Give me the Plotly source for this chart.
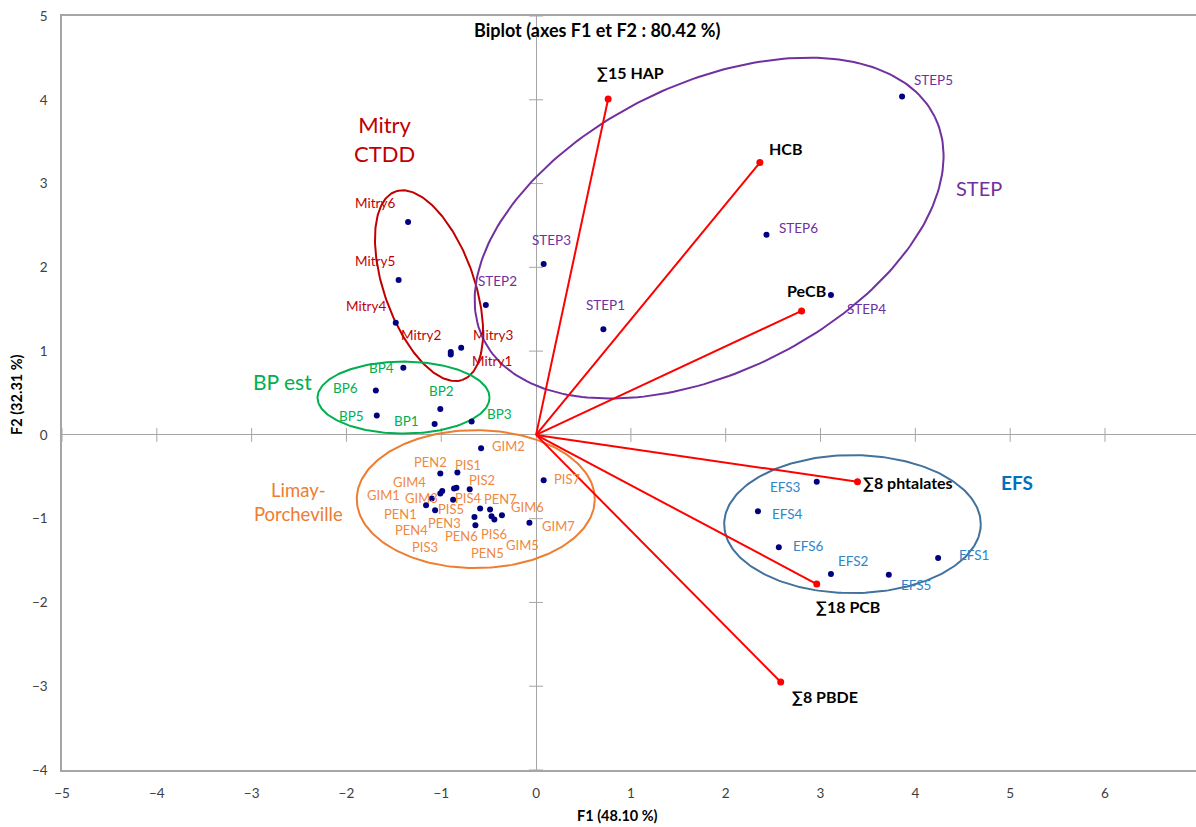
import numpy as np
import plotly.graph_objects as go

# ---------------- data (F1, F2 scores) ----------------
mitry_names = ["Mitry1", "Mitry2", "Mitry3", "Mitry4", "Mitry5", "Mitry6"]
mitry_f1 = [-0.90, -0.90, -0.79, -1.48, -1.45, -1.35]
mitry_f2 = [0.96, 0.99, 1.04, 1.34, 1.85, 2.54]

step_names = ["STEP1", "STEP2", "STEP3", "STEP4", "STEP5", "STEP6"]
step_f1 = [0.71, -0.53, 0.08, 3.11, 3.86, 2.43]
step_f2 = [1.26, 1.55, 2.04, 1.67, 4.04, 2.39]

bp_names = ["BP1", "BP2", "BP3", "BP4", "BP5", "BP6"]
bp_f1 = [-1.07, -1.01, -0.68, -1.40, -1.68, -1.69]
bp_f2 = [0.13, 0.31, 0.16, 0.80, 0.23, 0.53]

efs_names = ["EFS1", "EFS2", "EFS3", "EFS4", "EFS5", "EFS6"]
efs_f1 = [4.24, 3.11, 2.96, 2.34, 3.72, 2.56]
efs_f2 = [-1.47, -1.66, -0.56, -0.91, -1.67, -1.34]

limay_names = ["GIM1", "GIM2", "GIM3", "GIM4", "GIM5", "GIM6", "GIM7",
               "PEN1", "PEN2", "PEN3", "PEN4", "PEN5", "PEN6", "PEN7",
               "PIS1", "PIS2", "PIS3", "PIS4", "PIS5", "PIS6", "PIS7"]
limay_f1 = [-1.10, -0.58, -0.99, -1.01, -0.47, -0.36, -0.07,
            -1.16, -1.01, -0.65, -0.865, -0.485, -0.64, -0.59,
            -0.83, -0.70, -0.84, -0.875, -1.065, -0.44, 0.08]
limay_f2 = [-0.76, -0.16, -0.67, -0.70, -0.97, -0.96, -1.05,
            -0.84, -0.46, -0.98, -0.64, -0.89, -1.08, -0.88,
            -0.45, -0.65, -0.63, -0.775, -0.90, -1.01, -0.54]

var_names = ["∑15 HAP", "HCB", "PeCB", "∑8 phtalates", "∑18 PCB", "∑8 PBDE"]
var_f1 = [0.76, 2.36, 2.80, 3.39, 2.96, 2.58]
var_f2 = [4.01, 3.25, 1.48, -0.56, -1.78, -2.95]

x_ticks = [-5, -4, -3, -2, -1, 0, 1, 2, 3, 4, 5, 6]
y_ticks = [-4, -3, -2, -1, 0, 1, 2, 3, 4, 5]

# ---------------- layout geometry ----------------
W, H = 1196, 827
M = dict(l=62, r=0, t=16, b=57)
X_RANGE = [-5, 6.96]
Y_RANGE = [-4, 5]
px_x = (W - M["l"] - M["r"]) / (X_RANGE[1] - X_RANGE[0])
px_y = (H - M["t"] - M["b"]) / (Y_RANGE[1] - Y_RANGE[0])

FONT = "Lato, 'Open Sans', sans-serif"
NAVY = "#000080"

# label pixel offsets (dx right, dy down) relative to each point
label_off = {
    "Mitry1": (41, 7), "Mitry2": (-30, -17), "Mitry3": (32, -13),
    "Mitry4": (-30, -17), "Mitry5": (-24, -19), "Mitry6": (-33, -19),
    "STEP1": (2, -24), "STEP2": (12, -24), "STEP3": (8, -24),
    "STEP4": (36, 14), "STEP5": (31, -16), "STEP6": (32, -7),
    "BP1": (-28, -3), "BP2": (1, -18), "BP3": (28, -7),
    "BP4": (-22, 0), "BP5": (-25, 0), "BP6": (-30, -2),
    "EFS1": (36, -3), "EFS2": (23, -13), "EFS3": (-31, 5),
    "EFS4": (30, 3), "EFS5": (27, 10), "EFS6": (30, -1),
    "GIM1": (-48, -4), "GIM2": (27, -2), "GIM3": (-21, 7), "GIM4": (-31, -12),
    "GIM5": (31, 29), "GIM6": (26, -8), "GIM7": (29, 3),
    "PEN1": (-26, 9), "PEN2": (-10, -11), "PEN3": (-30, 6), "PEN4": (-43, 41),
    "PEN5": (-3, 44), "PEN6": (-14, 11), "PEN7": (20, -10),
    "PIS1": (11, -8), "PIS2": (12, -9), "PIS3": (-31, 59), "PIS4": (15, -2),
    "PIS5": (16, -1), "PIS6": (0, 14), "PIS7": (23, -1),
    "∑15 HAP": (22, -26), "HCB": (26, -14), "PeCB": (5, -20),
    "∑8 phtalates": (50, 1), "∑18 PCB": (31, 22), "∑8 PBDE": (44, 14),
}

groups = [
    dict(names=mitry_names, x=mitry_f1, y=mitry_f2, color="#C00000", fs=13.5),
    dict(names=step_names, x=step_f1, y=step_f2, color="#7030A0", fs=13.5),
    dict(names=bp_names, x=bp_f1, y=bp_f2, color="#00B050", fs=13.5),
    dict(names=efs_names, x=efs_f1, y=efs_f2, color="#2E86C8", fs=13.5),
    dict(names=limay_names, x=limay_f1, y=limay_f2, color="#F0883E", fs=13),
]

# ellipses: center (data), semi-axes (px), rotation (deg, screen-up positive)
ellipses = [
    dict(c=(-1.129, 1.781), a=100, b=45, ang=-70.4, color="#C00000"),
    dict(c=(1.825, 2.468), a=251.6, b=144, ang=26.25, color="#7030A0"),
    dict(c=(-1.398, 0.445), a=86, b=36, ang=0, color="#00B050"),
    dict(c=(-0.636, -0.767), a=119, b=69, ang=0, color="#ED7D31"),
    dict(c=(3.337, -1.065), a=128.3, b=69, ang=0, color="#41719C"),
]


def ellipse_xy(cx, cy, a, b, ang, n=240):
    t = np.linspace(0, 2 * np.pi, n)
    th = np.radians(ang)
    dx = a * np.cos(t) * np.cos(th) - b * np.sin(t) * np.sin(th)
    dy = a * np.cos(t) * np.sin(th) + b * np.sin(t) * np.cos(th)
    return cx + dx / px_x, cy + dy / px_y


fig = go.Figure()

# tick crosses on the zero axes
fig.add_trace(go.Scatter(
    x=[t for t in x_ticks if t != 0], y=[0] * (len(x_ticks) - 1), mode="markers",
    marker=dict(symbol="line-ns", size=10, line=dict(color="#A6A6A6", width=1)),
    hoverinfo="skip", showlegend=False))
fig.add_trace(go.Scatter(
    x=[0] * (len(y_ticks) - 1), y=[t for t in y_ticks if t != 0], mode="markers",
    marker=dict(symbol="line-ew", size=10, line=dict(color="#A6A6A6", width=1)),
    hoverinfo="skip", showlegend=False))

for e in ellipses:
    ex, ey = ellipse_xy(e["c"][0], e["c"][1], e["a"], e["b"], e["ang"])
    fig.add_trace(go.Scatter(x=ex, y=ey, mode="lines",
                             line=dict(color=e["color"], width=2),
                             hoverinfo="skip", showlegend=False))

# variable vectors
vx, vy = [], []
for a, b in zip(var_f1, var_f2):
    vx += [0, a, None]
    vy += [0, b, None]
fig.add_trace(go.Scatter(x=vx, y=vy, mode="lines",
                         line=dict(color="#FF0000", width=2),
                         hoverinfo="skip", showlegend=False))
fig.add_trace(go.Scatter(x=var_f1, y=var_f2, mode="markers",
                         marker=dict(color="#FF0000", size=7),
                         showlegend=False))

annotations = []
for g in groups:
    fig.add_trace(go.Scatter(x=g["x"], y=g["y"], mode="markers",
                             marker=dict(color=NAVY, size=6),
                             text=g["names"], showlegend=False))
    for n, x, y in zip(g["names"], g["x"], g["y"]):
        dx, dy = label_off[n]
        annotations.append(dict(x=x, y=y, xref="x", yref="y", text=n,
                                showarrow=False, xshift=dx, yshift=-dy,
                                font=dict(family=FONT, size=g["fs"], color=g["color"])))

for n, x, y in zip(var_names, var_f1, var_f2):
    dx, dy = label_off[n]
    annotations.append(dict(x=x, y=y, xref="x", yref="y", text="<b>" + n + "</b>",
                            showarrow=False, xshift=dx, yshift=-dy,
                            font=dict(family=FONT, size=16, color="#000000")))

# group labels (text, x, y, colour, size, bold)
group_labels = [
    ("Mitry<br>CTDD", -1.603, 3.53, "#C00000", 22, False),
    ("STEP", 4.673, 2.945, "#7030A0", 20, False),
    ("BP est", -2.679, 0.642, "#00B050", 21, False),
    ("Limay-<br>Porcheville", -2.51, -0.80, "#ED7D31", 18.5, False),
    ("EFS", 5.074, -0.57, "#0070C0", 19, True),
]
for t, x, y, c, s, b in group_labels:
    annotations.append(dict(x=x, y=y, xref="x", yref="y",
                            text=("<b>" + t + "</b>") if b else t, showarrow=False,
                            font=dict(family=FONT, size=s, color=c)))

# titles
pw = W - M["l"] - M["r"]
ph = H - M["t"] - M["b"]
annotations.append(dict(x=(597 - M["l"]) / pw, y=1, xref="paper", yref="paper",
                        xanchor="center", yanchor="middle", yshift=-14,
                        text="<b>Biplot (axes F1 et F2 : 80.42 %)</b>",
                        showarrow=False, font=dict(family=FONT, size=18, color="#000000")))
annotations.append(dict(x=(617 - M["l"]) / pw, y=0, xref="paper", yref="paper",
                        xanchor="center", yanchor="middle", yshift=-45,
                        text="<b>F1 (48.10 %)</b>",
                        showarrow=False, font=dict(family=FONT, size=14.5, color="#000000")))
annotations.append(dict(x=0, y=(H - M["b"] - 395) / ph, xref="paper", yref="paper",
                        xanchor="center", yanchor="middle", xshift=-45,
                        text="<b>F2 (32.31 %)</b>", textangle=-90,
                        showarrow=False, font=dict(family=FONT, size=14.5, color="#000000")))

axis_common = dict(showgrid=False, zeroline=True, zerolinecolor="#A6A6A6", zerolinewidth=1,
                   showline=True, linecolor="#A6A6A6", linewidth=1.5, mirror=True,
                   automargin=False,
                   ticks="", tickfont=dict(family=FONT, size=13.5, color="#404040"))

fig.update_layout(
    width=W, height=H, margin=M,
    plot_bgcolor="#FFFFFF", paper_bgcolor="#FFFFFF",
    showlegend=False,
    xaxis=dict(range=X_RANGE, tickvals=x_ticks, ticklabelstandoff=10, **axis_common),
    yaxis=dict(range=Y_RANGE, tickvals=y_ticks, ticklabelstandoff=10, **axis_common),
    annotations=annotations,
)

fig.write_html("out.html", config={"displayModeBar": False},
               post_script="document.body.style.margin='0';"
                           "document.documentElement.style.overflow='hidden';")
